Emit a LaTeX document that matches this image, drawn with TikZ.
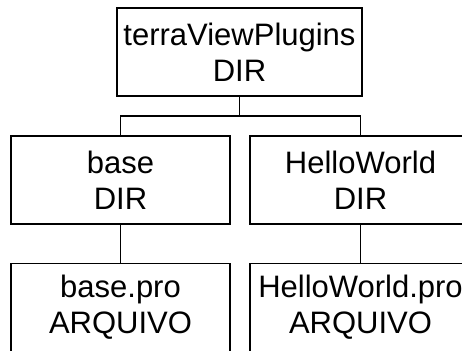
\documentclass[tikz,border=0pt]{standalone}
\usepackage{fontspec}
\setmainfont{Liberation Sans}

\tikzset{
  dirbox/.style={draw, line width=1.4pt, minimum width=219pt, minimum height=88pt,
    align=center, inner sep=0pt, font=\fontsize{31}{36}\selectfont},
  link/.style={line width=1.4pt}
}

\begin{document}
\begin{tikzpicture}[x=1pt,y=-1pt]
    \clip (0,0) rectangle (462,350);

    \node[dirbox, minimum width=245pt] (root) at (239.5,52) {terraViewPlugins\\DIR};
    \node[dirbox] (base) at (120.5,180) {base\\DIR};
    \node[dirbox, minimum width=221pt] (hello) at (360.5,180) {HelloWorld\\DIR};
    \node[dirbox] (basepro) at (120.5,307.5) {base.pro\\ARQUIVO};
    \node[dirbox, minimum width=221pt] (hellopro) at (360.5,307.5) {HelloWorld.pro\\ARQUIVO};

    \coordinate (fork) at (239.5,116);
    \draw[link] (root.south) -- (fork) -| (base.north);
    \draw[link] (fork) -| (hello.north);
    \draw[link] (base) -- (basepro);
    \draw[link] (hello) -- (hellopro);
  \end{tikzpicture}
\end{document}
